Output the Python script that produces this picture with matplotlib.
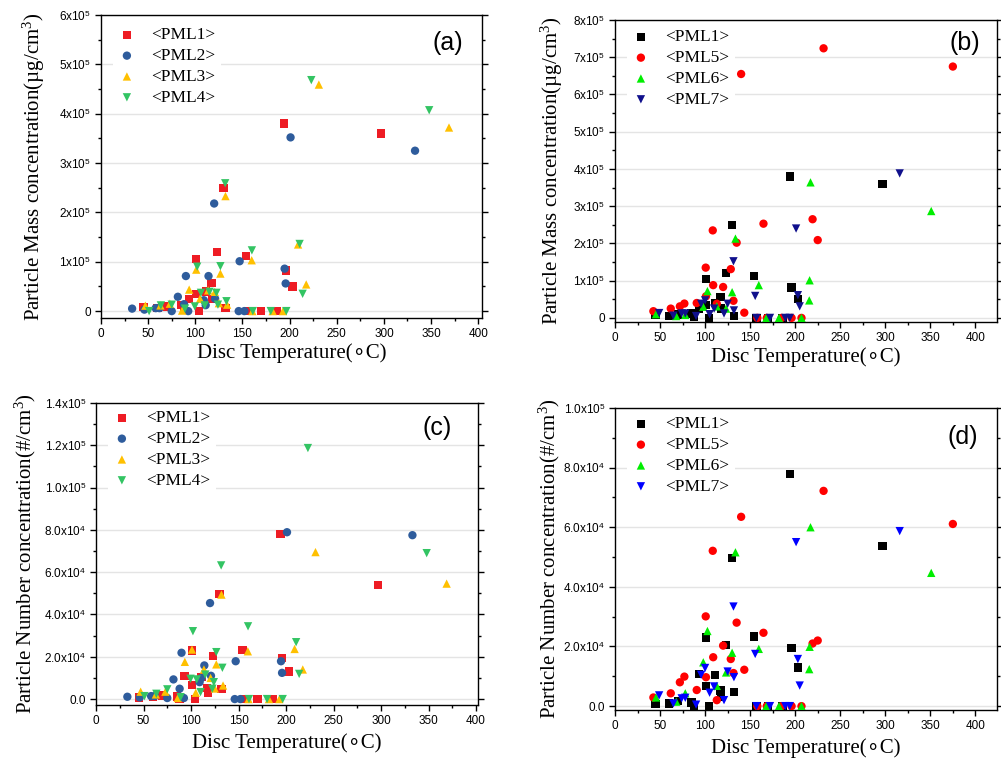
import matplotlib
matplotlib.use("Agg")
import matplotlib.pyplot as plt
import numpy as np
from matplotlib.ticker import MultipleLocator, FixedLocator, FixedFormatter

plt.rcParams['mathtext.fontset'] = 'custom'
plt.rcParams['mathtext.rm'] = 'Liberation Serif'
plt.rcParams['mathtext.sf'] = 'Liberation Sans'
plt.rcParams['mathtext.it'] = 'Liberation Serif:italic'

MASS_UNIT = 1e5
NUM_UNIT = 1e4

# ---------------- data (temperature in C, mass in 1e5 ug/cm3, number in 1e4 #/cm3)
pml1_T = [45, 60, 70, 85, 88, 93, 101, 101, 104, 111, 117, 118, 123, 130, 132, 154, 157, 170, 186, 194, 196, 203, 297]
pml1_mass = [0.08, 0.06, 0.09, 0.12, 0.02, 0.25, 1.05, 0.35, 0.0, 0.40, 0.57, 0.25, 1.20, 2.50, 0.06, 1.12, 0.0, 0.0, 0.0, 3.80, 0.82, 0.50, 3.60]
pml1_num = [0.07, 0.09, 0.17, 0.12, 0.0, 1.08, 2.30, 0.68, 0.0, 1.05, 0.52, 0.30, 2.05, 4.97, 0.48, 2.33, 0.0, 0.0, 0.0, 7.79, 1.95, 1.30, 5.38]

pml2_T = [33, 46, 58, 62, 75, 81.5, 88, 90, 92.5, 109, 111, 114, 120, 121, 146, 147, 152, 194.7, 195.8, 201, 333]
pml2_mass = [0.05, 0.03, 0.06, 0.06, 0.0, 0.29, 0.14, 0.71, 0.0, 0.22, 0.12, 0.71, 2.18, 0.25, 0.0, 1.01, 0.0, 0.86, 0.56, 3.52, 3.25]
pml2_num = [0.11, 0.08, 0.14, 0.15, 0.05, 0.93, 0.49, 2.19, 0.05, 0.80, 1.0, 1.59, 4.54, 1.1, 0.0, 1.79, 0.0, 1.79, 1.24, 7.89, 7.75]

pml3_T = [47, 63, 73, 86, 93.5, 101, 105, 113.6, 120.6, 125, 126.6, 132, 133.7, 159.8, 160.5, 182, 193, 209, 217.6, 231, 369]
pml3_mass = [0.11, 0.115, 0.15, 0.01, 0.435, 0.84, 0.25, 0.42, 0.39, 0.16, 0.76, 2.33, 0.13, 1.03, 0.0, 0.0, 0.0, 1.35, 0.54, 4.59, 3.72]
pml3_num = [0.35, 0.22, 0.35, 0.05, 1.76, 2.34, 0.30, 1.40, 1.0, 0.50, 1.64, 4.94, 0.64, 2.26, 0.0, 0.0, 0.0, 2.37, 1.40, 6.95, 5.46]

pml4_T = [51, 63.5, 75, 89, 99.5, 102, 106, 110, 115, 122.4, 124, 126.6, 131.7, 133, 160, 161, 180, 196.5, 210.6, 213.8, 223, 348]
pml4_mass = [0.0, 0.115, 0.13, 0.05, 0.095, 0.90, 0.37, 0.115, 0.39, 0.37, 0.13, 0.91, 2.59, 0.20, 1.23, 0.0, 0.0, 0.0, 1.36, 0.35, 4.68, 4.07]
pml4_num = [0.14, 0.25, 0.46, 0.09, 0.96, 3.21, 0.93, 0.33, 1.16, 0.49, 0.80, 2.22, 6.32, 1.48, 3.44, 0.0, 0.0, 0.0, 2.69, 1.19, 11.87, 6.90]

pml5_T = [42.6, 61.9, 72, 77, 90.7, 100.7, 101, 108.5, 109, 113, 120, 128.5, 131.5, 135, 140, 143.5, 158, 164.8, 168.5, 185, 196, 207, 219.3, 225, 231.5, 375]
pml5_mass = [0.18, 0.25, 0.31, 0.385, 0.40, 1.35, 0.58, 2.35, 0.88, 0.38, 0.83, 1.31, 0.46, 2.02, 6.55, 0.14, 0.0, 2.53, 0.0, 0.0, 0.0, 0.0, 2.65, 2.09, 7.24, 6.75]
pml5_num = [0.29, 0.43, 0.80, 0.99, 0.54, 3.01, 0.97, 5.21, 1.64, 0.20, 2.03, 1.58, 1.11, 2.80, 6.35, 1.22, 0.0, 2.46, 0.0, 0.0, 0.0, 0.0, 2.10, 2.20, 7.22, 6.11]

pml6_T = [45.5, 68, 78, 98, 102.6, 113, 123.3, 130, 133.7, 159.6, 168, 182, 207, 215.6, 216, 217, 351]
pml6_mass = [0.10, 0.05, 0.08, 0.30, 0.72, 0.31, 0.25, 0.69, 2.13, 0.88, 0.0, 0.0, 0.0, 0.47, 1.01, 3.64, 2.87]
pml6_num = [0.29, 0.15, 0.43, 1.47, 2.52, 0.68, 1.13, 1.79, 5.16, 1.92, 0.0, 0.0, 0.0, 1.24, 1.99, 6.00, 4.47]

pml7_T = [49, 64.8, 74, 78, 90, 95.6, 100, 105, 110, 121, 125, 131.5, 132, 155.6, 157, 172, 189, 194, 201, 203, 205, 316]
pml7_mass = [0.13, 0.06, 0.12, 0.12, 0.05, 0.38, 0.47, 0.10, 0.25, 0.12, 0.38, 1.52, 0.20, 0.59, 0.0, 0.0, 0.0, 0.0, 2.40, 0.61, 0.31, 3.88]
pml7_num = [0.36, 0.09, 0.26, 0.28, 0.05, 1.05, 1.28, 0.45, 0.66, 0.20, 1.16, 3.34, 0.97, 1.75, 0.0, 0.0, 0.0, 0.0, 5.50, 1.58, 0.69, 5.87]

labels_left = ['<PML1>', '<PML2>', '<PML3>', '<PML4>']
labels_right = ['<PML1>', '<PML5>', '<PML6>', '<PML7>']

x_ticks = [0, 50, 100, 150, 200, 250, 300, 350, 400]
mass_ticks_a = [0, 1, 2, 3, 4, 5, 6]            # x 1e5
mass_ticks_b = [0, 1, 2, 3, 4, 5, 6, 7, 8]      # x 1e5
num_ticks_c = [0, 2, 4, 6, 8, 10, 12, 14]       # x 1e4
num_ticks_d = [0, 2, 4, 6, 8, 10]               # x 1e4

# ---------------- styles
left_styles = [('s', '#ee1c24'), ('o', '#2e5c9c'), ('^', '#ffc000'), ('v', '#33c463')]
right_styles_b = [('s', '#000000'), ('o', '#ff0000'), ('^', '#00ee00'), ('v', '#10108c')]
right_styles_d = [('s', '#000000'), ('o', '#ff0000'), ('^', '#00ee00'), ('v', '#0000ff')]

W, H = 1001, 765
fig = plt.figure(figsize=(W / 100, H / 100), dpi=100)

def px_axes(l, r, t, b):
    return fig.add_axes([l / W, 1 - b / H, (r - l) / W, (b - t) / H])

ax_a = px_axes(101, 482, 15, 318)
ax_b = px_axes(615, 997, 20, 322)
ax_c = px_axes(96, 478, 403, 705)
ax_d = px_axes(615, 997, 408, 710)

def sci(v, dec):
    if v == 0:
        return '0' if dec == 0 else '0.0'
    e = int(np.floor(np.log10(v) + 1e-9))
    m = v / 10 ** e
    return f"{m:.{dec}f}x10" + r"$^{\mathsf{" + str(e) + "}}$"

serif = 'Liberation Serif'
sans = 'Liberation Sans'

def style_axes(ax, xlim, ylim, yticks, ylabels, ylab, panel, leg_off, panel_pos, ylab_x, xlab_y):
    ax.set_xlim(*xlim)
    ax.set_ylim(*ylim)
    ax.xaxis.set_major_locator(FixedLocator(x_ticks))
    ax.xaxis.set_minor_locator(MultipleLocator(25))
    ax.yaxis.set_major_locator(FixedLocator(yticks))
    step = yticks[1] - yticks[0]
    ax.yaxis.set_minor_locator(MultipleLocator(step / 2))
    ax.yaxis.set_major_formatter(FixedFormatter(ylabels))
    ax.tick_params(axis='both', which='major', direction='out', length=4.5, width=1.0,
                   labelsize=8.5, pad=2.5)
    ax.tick_params(axis='both', which='minor', direction='out', length=2.5, width=1.0)
    ax.tick_params(axis='y', which='both', right=True, labelright=False)
    ax.tick_params(axis='x', which='both', top=False)
    for lab in ax.get_xticklabels() + ax.get_yticklabels():
        lab.set_fontfamily(sans)
    for sp in ax.spines.values():
        sp.set_linewidth(1.0)
    for yv in yticks:
        ax.axhline(yv, color='#e4e4e4', lw=1.0, zorder=0)
    ax.set_xlabel('Disc Temperature(\u2218C)', fontfamily=[serif, 'DejaVu Sans'], fontsize=15)
    ax.xaxis.set_label_coords(0.5, xlab_y)
    ax.xaxis.label.set_va('top')
    ax.set_ylabel(ylab, fontfamily=serif, fontsize=15)
    ax.yaxis.set_label_coords(ylab_x, 0.5)
    bbox = ax.get_position()
    wpx = bbox.width * W
    hpx = bbox.height * H
    leg = ax.legend(loc='upper left', bbox_to_anchor=(leg_off[0] / wpx, 1 - leg_off[1] / hpx),
                    borderaxespad=0.0, frameon=True, fancybox=False, framealpha=1.0,
                    edgecolor='none', facecolor='white', borderpad=0.3,
                    handlelength=1.0, handletextpad=0.9, labelspacing=0.27,
                    scatterpoints=1, prop={'family': serif, 'size': 12.5})
    leg.set_zorder(5)
    ax.text(panel_pos[0], panel_pos[1], panel, transform=ax.transAxes, ha='right', va='center',
            fontfamily=sans, fontsize=18, zorder=6)

MS = 36

def draw(ax, series, styles, labels, unit):
    for (T, vals), (mk, col), lab in zip(series, styles, labels):
        ax.scatter(T, np.array(vals) * unit, marker=mk, s=MS, color=col, edgecolors='none',
                   label=lab, zorder=3)

left_T = [pml1_T, pml2_T, pml3_T, pml4_T]
right_T = [pml1_T, pml5_T, pml6_T, pml7_T]

draw(ax_a, list(zip(left_T, [pml1_mass, pml2_mass, pml3_mass, pml4_mass])), left_styles, labels_left, MASS_UNIT)
draw(ax_b, list(zip(right_T, [pml1_mass, pml5_mass, pml6_mass, pml7_mass])), right_styles_b, labels_right, MASS_UNIT)
draw(ax_c, list(zip(left_T, [pml1_num, pml2_num, pml3_num, pml4_num])), left_styles, labels_left, NUM_UNIT)
draw(ax_d, list(zip(right_T, [pml1_num, pml5_num, pml6_num, pml7_num])), right_styles_d, labels_right, NUM_UNIT)

mass_lab = 'Particle Mass concentration(µg/cm' + r'$^3$' + ')'
num_lab = 'Particle Number concentration(#/cm' + r'$^3$' + ')'

style_axes(ax_a, (0, 404), (-0.14e5, 6e5), [v * MASS_UNIT for v in mass_ticks_a],
           [sci(v * MASS_UNIT, 0) for v in mass_ticks_a], mass_lab, '(a)', (12, 7), (0.95, 0.908), -0.141, -0.085)
style_axes(ax_b, (0, 424), (-0.11e5, 8e5), [v * MASS_UNIT for v in mass_ticks_b],
           [sci(v * MASS_UNIT, 0) for v in mass_ticks_b], mass_lab, '(b)', (12, 4), (0.955, 0.924), -0.13, -0.085)
style_axes(ax_c, (0, 402), (-0.28e4, 1.4e5), [v * NUM_UNIT for v in num_ticks_c],
           [sci(v * NUM_UNIT, 1) for v in num_ticks_c], num_lab, '(c)', (12, 2), (0.932, 0.917), -0.153, -0.095)
style_axes(ax_d, (0, 424), (-0.13e4, 1.0e5), [v * NUM_UNIT for v in num_ticks_d],
           [sci(v * NUM_UNIT, 1) for v in num_ticks_d], num_lab, '(d)', (12, 3), (0.95, 0.904), -0.14, -0.095)

fig.savefig('out.png', dpi=100)
